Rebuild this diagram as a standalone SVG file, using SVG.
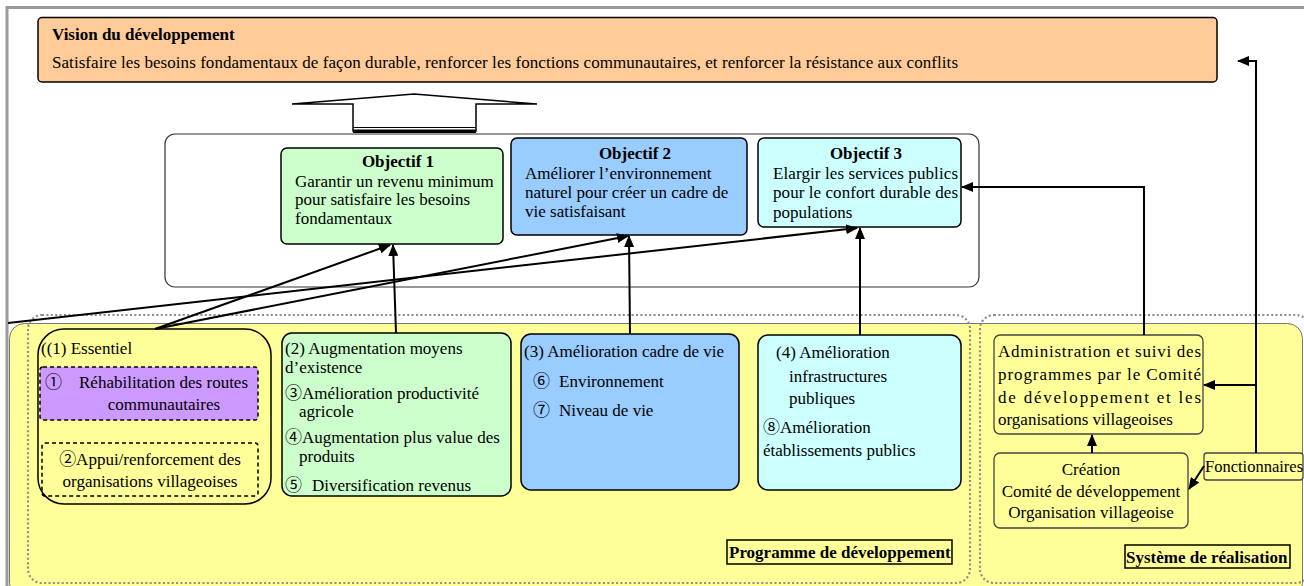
<svg xmlns="http://www.w3.org/2000/svg" width="1304" height="586" viewBox="0 0 1304 586">
<defs>
<marker id="ah" markerUnits="userSpaceOnUse" markerWidth="12" markerHeight="10" refX="11" refY="5" orient="auto"><path d="M0,0 L12,5 L0,10 z" fill="#000"/></marker>
<style>
.t{font-family:"Liberation Serif","Noto Sans CJK JP",serif;font-size:17px;fill:#000}
.b{font-weight:bold}
.m{text-anchor:middle}
.box{stroke:#000;stroke-width:1.5}
.dash{fill:none;stroke:#000;stroke-width:1.5;stroke-dasharray:4 3}
.purple{fill:#cc99ff}
.dot{fill:none;stroke:#8c8c8c;stroke-width:2.2;stroke-dasharray:2 2.4}
.c{fill:none;stroke:#000;stroke-width:2}
.ca{fill:none;stroke:#000;stroke-width:2;marker-end:url(#ah)}
</style>
</defs>
<rect width="1304" height="586" fill="#fff"/>
<g id="frame">
<line x1="6" y1="7.5" x2="1304" y2="7.5" stroke="#9a9a9a" stroke-width="3"/>
<line x1="7" y1="6" x2="7" y2="586" stroke="#9a9a9a" stroke-width="3"/>
</g>
<g id="regions">
<rect x="9.5" y="323.5" width="1293" height="275" rx="15" fill="#ffff99" stroke="#777" stroke-width="1"/>
<rect x="28" y="315" width="942" height="268" rx="14" class="dot"/>
<rect x="980" y="315" width="330" height="268" rx="14" class="dot"/>
</g>
<g id="vision">
<rect x="38" y="17.5" width="1179" height="64.5" rx="4" fill="#ffcc99" class="box"/>
<text class="t b" x="52" y="40">Vision du développement</text>
<text class="t" x="52" y="68" textLength="906" lengthAdjust="spacing">Satisfaire les besoins fondamentaux de façon durable, renforcer les fonctions communautaires, et renforcer la résistance aux conflits</text>
</g>
<g id="big-arrow">
<polygon points="292,104 414,94 537,104 476,104 476,131 353,131 353,104" fill="#fff" stroke="#000" stroke-width="1.5"/>
<line x1="353" y1="127.5" x2="476" y2="127.5" stroke="#000" stroke-width="1"/>
<rect x="353" y="129.5" width="123" height="3.5" fill="#000"/>
</g>
<g id="objectives-container">
<rect x="165" y="134" width="814" height="153" rx="10" fill="#fff" stroke="#333" stroke-width="1.2"/>
</g>
<g id="objectif1">
<rect x="281" y="148" width="222" height="96" rx="6" fill="#ccffcc" class="box"/>
<text class="t b m" x="398" y="167">Objectif 1</text>
<text class="t" x="295" y="187">Garantir un revenu minimum</text>
<text class="t" x="295" y="205">pour satisfaire les besoins</text>
<text class="t" x="295" y="224">fondamentaux</text>
</g>
<g id="objectif2">
<rect x="511" y="138" width="236" height="97" rx="6" fill="#99ccff" class="box"/>
<text class="t b m" x="635" y="159">Objectif 2</text>
<text class="t" x="525" y="179">Améliorer l’environnement</text>
<text class="t" x="525" y="198">naturel pour créer un cadre de</text>
<text class="t" x="525" y="217">vie satisfaisant</text>
</g>
<g id="objectif3">
<rect x="758" y="138" width="203" height="89" rx="6" fill="#ccffff" class="box"/>
<text class="t b m" x="866" y="159">Objectif 3</text>
<text class="t" x="773" y="179" textLength="185" lengthAdjust="spacing">Elargir les services publics</text>
<text class="t" x="773" y="198" textLength="185" lengthAdjust="spacing">pour le confort durable des</text>
<text class="t" x="773" y="218">populations</text>
</g>
<g id="prog1">
<rect x="38" y="329" width="233" height="175" rx="26" fill="#ffff99" class="box"/>
<text class="t" x="41" y="354">((1) Essentiel</text>
</g>
<g id="prog1-1">
<rect x="40" y="367" width="218" height="53" rx="3" class="dash purple"/>
<text class="t" x="45" y="388">①</text>
<text class="t" x="79" y="388">Réhabilitation des routes</text>
<text class="t m" x="164" y="410">communautaires</text>
</g>
<g id="prog1-2">
<rect x="42" y="443" width="216" height="53" rx="3" class="dash"/>
<text class="t m" x="150" y="465">②Appui/renforcement des</text>
<text class="t m" x="150" y="487">organisations villageoises</text>
</g>
<g id="prog2">
<rect x="282" y="333" width="229" height="163" rx="10" fill="#ccffcc" class="box"/>
<text class="t" x="285" y="354">(2) Augmentation moyens</text>
<text class="t" x="285" y="373">d’existence</text>
<text class="t" x="285" y="399">③Amélioration productivité</text>
<text class="t" x="299" y="417">agricole</text>
<text class="t" x="285" y="443">④Augmentation plus value des</text>
<text class="t" x="299" y="462">produits</text>
<text class="t" x="285" y="491">⑤</text>
<text class="t" x="312" y="491">Diversification revenus</text>
</g>
<g id="prog3">
<rect x="521" y="334" width="218" height="156" rx="10" fill="#99ccff" class="box"/>
<text class="t" x="524" y="357">(3) Amélioration cadre de vie</text>
<text class="t" x="533" y="387">⑥</text>
<text class="t" x="559" y="387">Environnement</text>
<text class="t" x="533" y="416">⑦</text>
<text class="t" x="559" y="416">Niveau de vie</text>
</g>
<g id="prog4">
<rect x="758" y="335" width="203" height="155" rx="10" fill="#ccffff" class="box"/>
<text class="t" x="776" y="358">(4) Amélioration</text>
<text class="t" x="789" y="382">infrastructures</text>
<text class="t" x="789" y="404">publiques</text>
<text class="t" x="763" y="433">⑧Amélioration</text>
<text class="t" x="763" y="456">établissements publics</text>
</g>
<g id="label-programme">
<rect x="727" y="540" width="225" height="24" fill="#ffff99" stroke="#000" stroke-width="1.5"/>
<text class="t b" x="729" y="558">Programme de développement</text>
</g>
<g id="admin">
<rect x="994" y="335" width="209" height="99" rx="6" fill="#ffff99" stroke="#444" stroke-width="1.3"/>
<text class="t" x="998" y="357" textLength="203" lengthAdjust="spacing">Administration et suivi des</text>
<text class="t" x="998" y="380" textLength="203" lengthAdjust="spacing">programmes par le Comité</text>
<text class="t" x="998" y="403" textLength="203" lengthAdjust="spacing">de développement et les</text>
<text class="t" x="998" y="425">organisations villageoises</text>
</g>
<g id="creation">
<rect x="994" y="453" width="194" height="75" rx="6" fill="#ffff99" stroke="#444" stroke-width="1.3"/>
<text class="t m" x="1091" y="475">Création</text>
<text class="t m" x="1091" y="497">Comité de développement</text>
<text class="t m" x="1091" y="518">Organisation villageoise</text>
</g>
<g id="fonctionnaires">
<rect x="1204" y="453" width="99" height="27" rx="3" fill="#ffff99" stroke="#444" stroke-width="1.3"/>
<text class="t" x="1205" y="472" style="font-size:16.5px">Fonctionnaires</text>
</g>
<g id="label-systeme">
<rect x="1125" y="545" width="165" height="23" fill="#ffff99" stroke="#000" stroke-width="1.5"/>
<text class="t b" x="1126" y="563">Système de réalisation</text>
</g>
<g id="connectors">
<line class="ca" x1="8" y1="323" x2="857" y2="228"/>
<line class="ca" x1="155" y1="329" x2="628" y2="236"/>
<line class="ca" x1="155" y1="329" x2="390" y2="245"/>
<line class="ca" x1="396" y1="333" x2="393" y2="245"/>
<line class="ca" x1="630" y1="334" x2="629" y2="236"/>
<line class="ca" x1="860" y1="335" x2="860" y2="228"/>
<path class="ca" d="M1144,335 V187 H962"/>
<path class="ca" d="M1256,453 V61 H1238"/>
<path class="ca" d="M1256,385 H1204"/>
<line class="ca" x1="1204" y1="466" x2="1189" y2="489"/>
<line class="ca" x1="1092" y1="453" x2="1092" y2="435"/>
</g>
</svg>
